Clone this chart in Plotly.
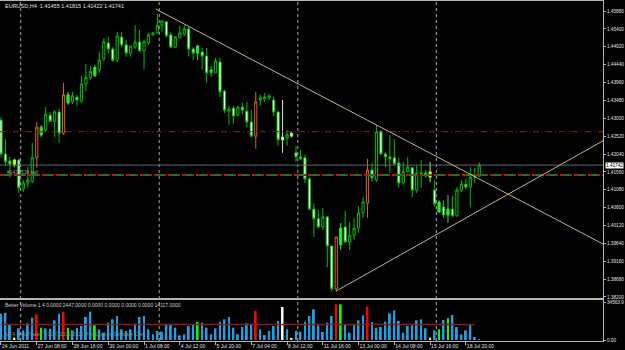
import plotly.graph_objects as go

# ---------------- data (EURUSD H4) ----------------
opens = [1.4295,1.4204,1.4185,1.4175,1.4188,1.4110,1.4126,1.4131,1.4194,1.4276,
         1.4268,1.4308,1.4292,1.4317,1.4260,1.4363,1.4344,1.4357,1.4346,1.4392,
         1.4409,1.4414,1.4430,1.4459,1.4502,1.4486,1.4456,1.4518,1.4497,1.4475,
         1.4491,1.4505,1.4481,1.4502,1.4524,1.4529,1.4550,1.4559,1.4524,1.4491,
         1.4516,1.4526,1.4540,1.4486,1.4475,1.4478,1.4467,1.4430,1.4422,1.4451,
         1.4373,1.4319,1.4327,1.4308,1.4330,1.4319,1.4290,1.4252,1.4349,1.4352,
         1.4355,1.4349,1.4317,1.4242,1.4247,1.4252,1.4207,1.4196,1.4194,1.4137,
         1.4056,1.4030,1.4008,1.4035,1.3957,1.3842,1.3960,1.4008,1.3968,1.3986,
         1.4005,1.4046,1.4072,1.4161,1.4134,1.4266,1.4204,1.4196,1.4194,1.4180,
         1.4126,1.4156,1.4167,1.4107,1.4150,1.4153,1.4142,1.4107,1.4075,1.4062,
         1.4040,1.4056,1.4038,1.4107,1.4123,1.4115,1.4142,1.41455]
highs = [1.4303,1.4244,1.4196,1.4191,1.4191,1.4134,1.4169,1.4234,1.4290,1.4282,
         1.4330,1.4316,1.4322,1.4325,1.4395,1.4371,1.4371,1.4363,1.4414,1.4445,
         1.4440,1.4443,1.4478,1.4515,1.4518,1.4491,1.4532,1.4532,1.4510,1.4494,
         1.4550,1.4537,1.4510,1.4529,1.4532,1.4580,1.4564,1.4561,1.4532,1.4521,
         1.4548,1.4550,1.4545,1.4491,1.4497,1.4489,1.4489,1.4440,1.4462,1.4462,
         1.4376,1.4333,1.4333,1.4333,1.4341,1.4344,1.4322,1.4371,1.4363,1.4368,
         1.4365,1.4357,1.4319,1.4349,1.4268,1.4263,1.4226,1.4215,1.4202,1.4142,
         1.4072,1.4054,1.4059,1.4038,1.3957,1.3981,1.4019,1.4051,1.4021,1.4032,
         1.4064,1.4088,1.4191,1.4180,1.4282,1.4266,1.4210,1.4255,1.4244,1.4194,
         1.4183,1.4196,1.4169,1.4175,1.4188,1.4161,1.4183,1.4134,1.4080,1.4080,
         1.4094,1.4091,1.4115,1.4134,1.4137,1.4169,1.4167,1.41815]
lows = [1.4194,1.4172,1.4140,1.4169,1.4099,1.4102,1.4113,1.4126,1.4167,1.4249,
        1.4263,1.4290,1.4249,1.4234,1.4255,1.4336,1.4338,1.4333,1.4341,1.4373,
        1.4403,1.4411,1.4422,1.4454,1.4475,1.4451,1.4451,1.4491,1.4465,1.4465,
        1.4486,1.4478,1.4432,1.4497,1.4521,1.4526,1.4532,1.4518,1.4491,1.4489,
        1.4516,1.4521,1.4465,1.4456,1.4456,1.4432,1.4395,1.4411,1.4422,1.4357,
        1.4314,1.4282,1.4287,1.4306,1.4311,1.4276,1.4249,1.4218,1.4333,1.4344,
        1.4349,1.4306,1.4226,1.4207,1.4226,1.4249,1.4183,1.4188,1.4126,1.4054,
        1.3981,1.4005,1.4000,1.3900,1.3834,1.3834,1.3946,1.3965,1.3946,1.3973,
        1.3992,1.4032,1.4032,1.4129,1.4129,1.4202,1.4169,1.4153,1.4175,1.4113,
        1.4121,1.4153,1.4088,1.4099,1.4113,1.4140,1.4129,1.4062,1.4046,1.4032,
        1.4019,1.4035,1.4035,1.4102,1.4110,1.4062,1.4126,1.41422]
closes = [1.4204,1.4183,1.4177,1.4188,1.4113,1.4126,1.4134,1.4194,1.4276,1.4255,
          1.4311,1.4292,1.4317,1.4260,1.4363,1.4341,1.4360,1.4349,1.4392,1.4409,
          1.4425,1.4437,1.4456,1.4505,1.4486,1.4456,1.4521,1.4497,1.4475,1.4494,
          1.4505,1.4481,1.4505,1.4524,1.4529,1.4550,1.4561,1.4521,1.4491,1.4518,
          1.4529,1.4540,1.4486,1.4475,1.4494,1.4467,1.4422,1.4422,1.4454,1.4371,
          1.4322,1.4325,1.4306,1.4330,1.4322,1.4290,1.4252,1.4344,1.4355,1.4357,
          1.4360,1.4317,1.4242,1.4249,1.4255,1.4260,1.4196,1.4191,1.4137,1.4056,
          1.4030,1.4008,1.4035,1.3957,1.3842,1.3981,1.4005,1.3968,1.3986,1.4005,
          1.4046,1.4075,1.4161,1.4140,1.4263,1.4204,1.4196,1.4191,1.4177,1.4126,
          1.4156,1.4169,1.4107,1.4153,1.4153,1.4145,1.4156,1.4070,1.4048,1.4040,
          1.4056,1.4038,1.4107,1.4123,1.4115,1.4142,1.4146,1.41741]
volumes = [23970,24860,14290,2120,10610,8790,15160,20310,23340,11220,
           10610,10310,17890,23970,25470,11220,8790,11220,12730,20920,
           25770,13340,9700,6670,15770,18800,21830,9700,8190,9700,
           14860,20920,21830,9700,5160,8190,7580,14290,13640,11220,
           4240,5160,12730,14290,16370,15770,11220,5160,10610,16680,
           18800,20920,11220,5160,11830,15160,14290,26380,9700,4550,
           8190,12730,17280,30020,9700,1520,8190,7580,16680,21830,
           27890,13340,7280,15770,21830,32440,32440,14290,6670,13640,
           17890,22440,30320,16370,11220,11830,16680,24260,27000,17280,
           6670,12730,13340,17890,18800,10610,2120,8790,9700,18190,
           19710,22740,11830,5160,8790,13640,2730,900]
# Better Volume class per bar: b=normal, r=climax, g=churn, w=climax low, y=low volume
vol_class = list("bbbybbbbrg" "bbbbrgbbbb" "bgbbbbbbbb" "bbbbbbbbbb" "bbbbgbbbbb"
                 "bbbbbbbrbb" "bbbwbybbbb" "bbbbbrgbbb" "bbrbbbbbbb" "bbbbbbybgb"
                 "gbbbbbbb")
vol_avg_last = 14117.0
date_labels = ["24 Jun 2011", "27 Jun 08:00", "28 Jun 16:00", "30 Jun 00:00", "1 Jul 08:00",
               "4 Jul 12:00", "5 Jul 20:00", "7 Jul 04:00", "8 Jul 12:00", "11 Jul 16:00",
               "13 Jul 00:00", "14 Jul 08:00", "15 Jul 16:00", "18 Jul 20:00"]
label_every = 8
week_start_bars = [5, 36, 67, 98]
price_ticks = [1.45880, 1.45400, 1.44920, 1.44440, 1.43960, 1.43480, 1.43000, 1.42520,
               1.42040, 1.41560, 1.41080, 1.40600, 1.40120, 1.39640, 1.39160, 1.38680, 1.38200]
bid_price = 1.41742
level_upper = 1.42639
level_lower = 1.41476
upper_tl = [(34.6, 1.45934), (84.0, 1.42819)]
lower_tl = [(75.0, 1.38361), (108.5, 1.40625)]
vol_axis_max = 34563.9

N = len(opens)
xs = list(range(N))
X_MIN, X_MAX = -0.22, 134.68
Y_MIN, Y_MAX = 1.38173, 1.46149

FONT = "Liberation Sans"
GRAY = "#b4b4b4"
AXFONT = dict(family=FONT, size=4.7, color='#e0e0e0')

fig = go.Figure()

styles = {
    'b': ('#00c000', '#000000', '#ffffff'),
    'r': ('#d2691e', '#000000', '#ffffff'),
    'g': ('#22ee22', '#22ee22', '#22ee22'),
    'y': ('#a8ff20', '#a8ff20', '#a8ff20'),
    'w': ('#c8f0c0', '#c8f0c0', '#c8f0c0'),
}
for code, (lc, fi, fd) in styles.items():
    idx = [i for i in range(N) if vol_class[i] == code]
    if not idx:
        continue
    fig.add_trace(go.Candlestick(
        x=[xs[i] for i in idx], open=[opens[i] for i in idx], high=[highs[i] for i in idx],
        low=[lows[i] for i in idx], close=[closes[i] for i in idx],
        increasing=dict(line=dict(color=lc, width=1), fillcolor=fi),
        decreasing=dict(line=dict(color=lc, width=1), fillcolor=fd),
        whiskerwidth=0, xaxis='x', yaxis='y', showlegend=False, hoverinfo='skip'))

vcol = {'b': '#1ea0e6', 'r': '#ff0000', 'g': '#00ff00', 'w': '#ffffff', 'y': '#ffff00'}
fig.add_trace(go.Bar(x=xs, y=volumes, marker=dict(color=[vcol[c] for c in vol_class], line=dict(width=0)),
                     width=0.42, xaxis='x2', yaxis='y2', showlegend=False, hoverinfo='skip'))
fig.add_trace(go.Scatter(x=[0, N - 2], y=[vol_avg_last, vol_avg_last], mode='lines',
                         line=dict(color='#8b1a1a', width=1.5), xaxis='x2', yaxis='y2',
                         showlegend=False, hoverinfo='skip'))

shapes = []
for b in week_start_bars:
    shapes.append(dict(type='line', xref='x', yref='paper', x0=b - 0.6, x1=b - 0.6, y0=0, y1=1,
                       line=dict(color='#a8a8a8', width=1, dash='dot'), layer='above'))
shapes.append(dict(type='line', xref='x domain', yref='y', x0=0, x1=1, y0=level_upper, y1=level_upper,
                   line=dict(color='#9a1c1c', width=1, dash='6px,3px,1px,3px')))
shapes.append(dict(type='line', xref='x domain', yref='y', x0=0, x1=1, y0=level_lower, y1=level_lower,
                   line=dict(color='#b01818', width=2, dash='8px,2px,2px,2px')))
shapes.append(dict(type='line', xref='x domain', yref='y', x0=0, x1=1, y0=level_lower, y1=level_lower,
                   line=dict(color='#1a7a1a', width=2, dash='0px,4px,6px,4px')))
shapes.append(dict(type='line', xref='x domain', yref='y', x0=0, x1=1, y0=bid_price, y1=bid_price,
                   line=dict(color='#56687a', width=1)))
for (xa, ya), (xb, yb) in (upper_tl, lower_tl):
    slope = (yb - ya) / (xb - xa)
    shapes.append(dict(type='line', xref='x', yref='y', x0=xa, y0=ya, x1=X_MAX, y1=ya + slope * (X_MAX - xa),
                       line=dict(color='#c8b08c', width=1)))

H = 341.0  # plot area height px
def py(px):
    return (H - px) / H

annotations = [
    dict(text="EURUSD,H4  1.41455 1.41815 1.41422 1.41741", xref='paper', yref='paper', x=0.005, y=py(6),
         xanchor='left', yanchor='middle', showarrow=False, font=dict(family=FONT, size=5.5, color='#e0e0e0')),
    dict(text="Better Volume 1.4 0.0000 2447.0000 0.0000 0.0000 0.0000 0.0000 14117.0000", xref='paper', yref='paper',
         x=0.005, y=py(305), xanchor='left', yanchor='middle', showarrow=False,
         font=dict(family=FONT, size=5, color='#d0d0d0')),
    dict(text="MT4 MetaTrader 4.00 \u00a9 2001-2011 MetaQuotes Software Corp.", xref='paper', yref='paper',
         x=0.005, y=py(334), xanchor='left', yanchor='middle', showarrow=False,
         font=dict(family=FONT, size=5, color='#8a8a8a')),
    dict(text="#1434534 sell", xref='paper', yref='paper', x=0.008, y=py(172), xanchor='left', yanchor='middle',
         showarrow=False, font=dict(family=FONT, size=5, color='#a0a0a0')),
    dict(text="1.41742", xref='paper', yref='y', x=1.0, y=bid_price, xanchor='left', yanchor='middle',
         showarrow=False, bgcolor='#ffffff', borderpad=0, xshift=2,
         font=dict(family=FONT, size=4.7, color='#000000')),
]

fig.update_layout(
    width=625, height=350, margin=dict(l=0, r=22, t=0, b=9, autoexpand=False),
    paper_bgcolor='#000000', plot_bgcolor='#000000', showlegend=False,
    boxmode='overlay', boxgap=0.3,
    shapes=shapes, annotations=annotations,
    xaxis=dict(domain=[0, 1], range=[X_MIN, X_MAX], anchor='y', showticklabels=False, ticks='',
               showgrid=False, zeroline=False, showline=True, mirror=True, linecolor=GRAY, linewidth=1,
               rangeslider=dict(visible=False), automargin=False),
    yaxis=dict(domain=[py(298), py(1)], range=[Y_MIN, Y_MAX], anchor='x', side='right',
               tickvals=price_ticks, ticktext=["%.5f" % t for t in price_ticks],
               ticks='outside', ticklen=2, tickcolor=GRAY, showgrid=False, zeroline=False,
               showline=True, mirror=True, linecolor=GRAY, linewidth=1, automargin=False,
               tickfont=AXFONT),
    xaxis2=dict(domain=[0, 1], range=[X_MIN, X_MAX], anchor='y2', matches='x',
                tickvals=[i * label_every for i in range(len(date_labels))], ticktext=date_labels,
                ticks='outside', ticklen=3, tickcolor=GRAY, ticklabelposition='outside right',
                tickangle=0, automargin=False,
                showgrid=False, zeroline=False, showline=True, mirror=True, linecolor=GRAY, linewidth=1,
                tickfont=dict(family=FONT, size=5, color='#e0e0e0')),
    yaxis2=dict(domain=[0, py(300)], range=[-910, 36383], anchor='x2', side='right',
                tickvals=[vol_axis_max, 0], ticktext=["%.1f" % vol_axis_max, "0.00"],
                ticks='outside', ticklen=2, tickcolor=GRAY, showgrid=False, zeroline=False,
                showline=True, mirror=True, linecolor=GRAY, linewidth=1, automargin=False,
                tickfont=AXFONT),
)

fig.write_html("out.html")
